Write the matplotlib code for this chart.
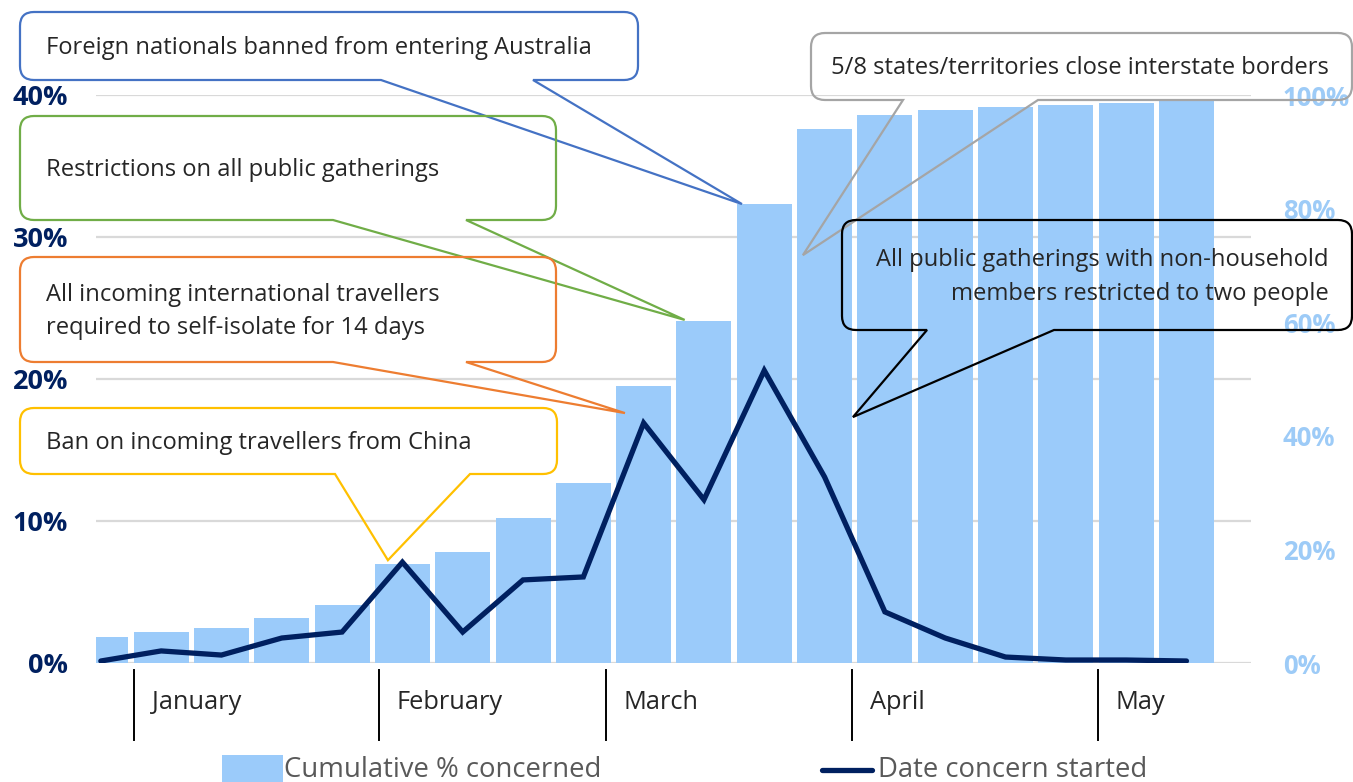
import numpy as np
import matplotlib.pyplot as plt
from matplotlib.path import Path
from matplotlib.patches import PathPatch, Rectangle
from matplotlib.lines import Line2D
from matplotlib.transforms import IdentityTransform, blended_transform_factory

# weekly values, Jan -> May
cumulative = [4.6, 5.5, 6.2, 7.9, 10.2, 17.4, 19.5, 25.5, 31.7, 48.8,
              60.2, 80.8, 94.0, 96.5, 97.4, 97.9, 98.2, 98.6, 98.9]
started = [0.14, 0.85, 0.56, 1.76, 2.18, 7.1, 2.18, 5.85, 6.06, 16.9,
           11.5, 20.6, 13.1, 3.6, 1.76, 0.42, 0.21, 0.21, 0.14]
months = ['January', 'February', 'March', 'April', 'May']
month_starts = [0.55, 4.61, 8.37, 12.45, 16.53]
left_ticks = [0, 10, 20, 30, 40]
right_ticks = [0, 20, 40, 60, 80, 100]

# event callouts: text, box (px), wedge base (px), tip (week index, cumulative %)
events = [
    ('Foreign nationals banned from entering Australia', (20, 12, 638, 80), (381, 533), (10.63, 80.8), '#4472C4', 'left'),
    ('Restrictions on all public gatherings', (20, 116, 556, 220), (333, 466), (9.68, 60.4), '#70AD47', 'left'),
    ('All incoming international travellers\nrequired to self-isolate for 14 days', (20, 257, 556, 362), (333, 466), (8.69, 44.0), '#ED7D31', 'left'),
    ('Ban on incoming travellers from China', (20, 408, 557, 474), (335, 470), (4.76, 18.1), '#FFC000', 'left'),
    ('5/8 states/territories close interstate borders', (811, 33, 1352, 100), (903, 1038), (11.64, 71.8), '#A5A5A5', 'right'),
    ('All public gatherings with non-household\nmembers restricted to two people', (842, 220, 1352, 330), (927, 1054), (12.47, 43.3), '#000000', 'right'),
]

W, H = 1353, 782
BAR = '#9BCBFA'
NAVY = '#002060'
FONT = 'Open Sans'

fig = plt.figure(figsize=(W / 100, H / 100), dpi=100)
ax = fig.add_axes([96 / W, (H - 663) / H, (1251 - 96) / W, (663 - 95) / H])
ax2 = ax.twinx()

x = np.arange(len(cumulative))
ax.bar(x, cumulative, width=0.912, color=BAR, zorder=2)
for v in left_ticks:
    ax.axhline(v / left_ticks[-1] * right_ticks[-1], color='#D9D9D9', lw=1.6, zorder=1)
ax.set_ylim(0, 100)
ax.set_xlim(-0.08, 19.07)
ax2.plot(x, started, color=NAVY, lw=3.8, solid_joinstyle='miter', solid_capstyle='round', zorder=3)
ax2.set_ylim(0, 40)

ax.yaxis.tick_right()
ax2.yaxis.tick_left()
ax.set_yticks(right_ticks)
ax.set_yticklabels([f'{v}%' for v in right_ticks])
ax2.set_yticks(left_ticks)
ax2.set_yticklabels([f'{v}%' for v in left_ticks])
ax.tick_params(axis='y', length=0, pad=23, labelcolor='#9DCBF7', labelsize=18.5)
ax2.tick_params(axis='y', length=0, pad=20, labelcolor=NAVY, labelsize=19.5)
for lab in ax.get_yticklabels() + ax2.get_yticklabels():
    lab.set_fontweight('bold')
    lab.set_family(FONT)
ax.set_xticks([])
ax2.set_xticks([])
for a in (ax, ax2):
    for s in a.spines.values():
        s.set_visible(False)

# month dividers below the axis
trans = blended_transform_factory(ax.transData, ax.transAxes)
for m, xs in zip(months, month_starts):
    ax.plot([xs, xs], [-0.012, -0.136], color='black', lw=1.4, transform=trans, clip_on=False)
    ax.annotate(m, (xs, -0.069), xycoords=trans, xytext=(13, 0), textcoords='offset points',
                ha='left', va='center', fontsize=18.3, family=FONT, color='#262626')


def callout(box, base, tip, color):
    x0, y0, x1, y1 = box
    b0, b1 = base
    tx, ty = ax.transData.transform(tip)
    r = 14
    pts = [(x0 + r, y0), (x1 - r, y0), (x1, y0), (x1, y0 + r), (x1, y1 - r), (x1, y1), (x1 - r, y1),
           (b1, y1), None, (b0, y1), (x0 + r, y1), (x0, y1), (x0, y1 - r), (x0, y0 + r), (x0, y0), (x0 + r, y0)]
    verts = []
    for p in pts:
        if p is None:
            verts.append((tx, ty))
        else:
            verts.append((p[0], H - p[1]))
    verts.append(verts[0])
    C = Path.CURVE3
    L = Path.LINETO
    codes = [Path.MOVETO, L, C, C, L, C, C, L, L, L, L, C, C, L, C, C, Path.CLOSEPOLY]
    patch = PathPatch(Path(verts, codes), facecolor='none', edgecolor=color, lw=1.6,
                      transform=IdentityTransform(), zorder=5)
    fig.add_artist(patch)


for text, box, base, tip, color, align in events:
    callout(box, base, tip, color)
    x0, y0, x1, y1 = box
    cy = (y0 + y1) / 2 + 2
    if align == 'left':
        tx = x0 + 26
    else:
        tx = x1 - 23
    fig.text(tx / W, (H - cy) / H, text, ha=align, va='center', multialignment=align,
             fontsize=17.1, family=FONT, color='#262626', linespacing=1.5)

# legend at the bottom
fig.add_artist(Rectangle((222 / W, 0), 61 / W, 27 / H, transform=fig.transFigure,
                         facecolor=BAR, edgecolor='none'))
fig.text(284 / W, (H - 777) / H, 'Cumulative % concerned', ha='left', va='baseline',
         fontsize=19.8, family=FONT, color='#595959')
fig.add_artist(Line2D([822 / W, 872 / W], [(H - 770) / H] * 2, transform=fig.transFigure,
                      color=NAVY, lw=3.8, solid_capstyle='round'))
fig.text(878 / W, (H - 777) / H, 'Date concern started', ha='left', va='baseline',
         fontsize=19.8, family=FONT, color='#595959')

fig.savefig('out.png', dpi=100)
